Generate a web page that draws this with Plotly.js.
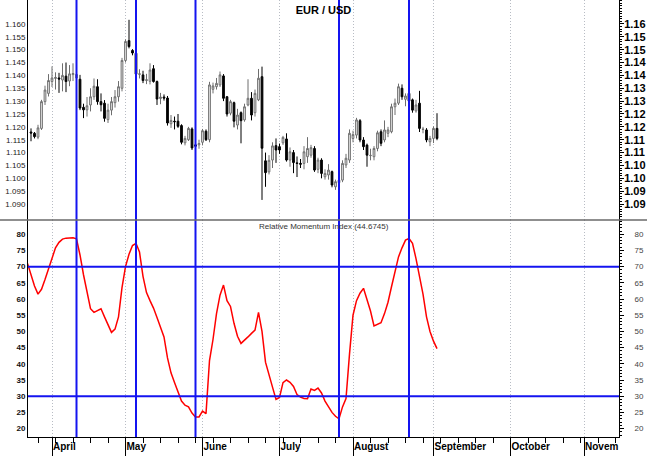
<!DOCTYPE html>
<html><head><meta charset="utf-8">
<script src="https://cdn.plot.ly/plotly-3.0.1.min.js"></script>
<style>html,body{margin:0;padding:0;background:#fff;}#chart{width:647px;height:456px;}</style>
</head><body><div id="chart"></div>
<script>
// ---- data ----
const dates = [
'2016-03-24','2016-03-25','2016-03-28','2016-03-29','2016-03-30','2016-03-31',
'2016-04-01','2016-04-04','2016-04-05','2016-04-06','2016-04-07','2016-04-08','2016-04-11','2016-04-12','2016-04-13','2016-04-14','2016-04-15',
'2016-04-18','2016-04-19','2016-04-20','2016-04-21','2016-04-22','2016-04-25','2016-04-26','2016-04-27','2016-04-28','2016-04-29',
'2016-05-02','2016-05-03','2016-05-04','2016-05-05','2016-05-06','2016-05-09','2016-05-10','2016-05-11','2016-05-12','2016-05-13',
'2016-05-16','2016-05-17','2016-05-18','2016-05-19','2016-05-20','2016-05-23','2016-05-24','2016-05-25','2016-05-26','2016-05-27','2016-05-30','2016-05-31',
'2016-06-01','2016-06-02','2016-06-03','2016-06-06','2016-06-07','2016-06-08','2016-06-09','2016-06-10','2016-06-13','2016-06-14','2016-06-15','2016-06-16','2016-06-17',
'2016-06-20','2016-06-21','2016-06-22','2016-06-23','2016-06-24','2016-06-27','2016-06-28','2016-06-29','2016-06-30',
'2016-07-01','2016-07-04','2016-07-05','2016-07-06','2016-07-07','2016-07-08','2016-07-11','2016-07-12','2016-07-13','2016-07-14','2016-07-15',
'2016-07-18','2016-07-19','2016-07-20','2016-07-21','2016-07-22','2016-07-25','2016-07-26','2016-07-27','2016-07-28','2016-07-29',
'2016-08-01','2016-08-02','2016-08-03','2016-08-04','2016-08-05','2016-08-08','2016-08-09','2016-08-10','2016-08-11','2016-08-12',
'2016-08-15','2016-08-16','2016-08-17','2016-08-18','2016-08-19','2016-08-22','2016-08-23','2016-08-24','2016-08-25','2016-08-26',
'2016-08-29','2016-08-30','2016-08-31','2016-09-01','2016-09-02'];
const openP = [1.1180,1.1175,1.1160,1.1194,1.1298,1.1330,
1.1376,1.1388,1.1390,1.1382,1.1397,1.1378,1.1403,1.1390,1.1385,1.1276,1.1266,
1.1285,1.1317,1.1356,1.1298,1.1292,1.1228,1.1265,1.1294,1.1317,1.1350,
1.1458,1.1535,1.1497,1.1486,1.1404,1.1402,1.1380,1.1377,1.1426,1.1376,
1.1310,1.1316,1.1312,1.1212,1.1222,1.1222,1.1205,1.1138,1.1150,1.1192,1.1130,1.1130,
1.1140,1.1183,1.1150,1.1346,1.1356,1.1363,1.1398,1.1317,1.1253,1.1294,1.1207,1.1255,1.1227,
1.1285,1.1311,1.1255,1.1305,1.1395,1.1068,1.1025,1.1071,1.1127,
1.1123,1.1138,1.1153,1.1071,1.1100,1.1060,1.1058,1.1058,1.1084,1.1090,1.1116,
1.1035,1.1071,1.1006,1.1013,1.1026,1.0967,1.0983,1.0993,1.1052,1.1071,
1.1155,1.1168,1.1224,1.1149,1.1129,1.1088,1.1084,1.1116,1.1181,1.1149,
1.1175,1.1181,1.1278,1.1292,1.1350,1.1307,1.1330,1.1305,1.1262,1.1292,
1.1190,1.1188,1.1142,1.1155,1.1194];
const highP = [1.1194,1.1180,1.1208,1.1305,1.1360,1.1405,
1.1435,1.1412,1.1410,1.1447,1.1450,1.1440,1.1447,1.1412,1.1402,1.1290,1.1316,
1.1350,1.1388,1.1385,1.1330,1.1304,1.1290,1.1316,1.1343,1.1378,1.1468,
1.1540,1.1616,1.1502,1.1490,1.1424,1.1418,1.1406,1.1447,1.1440,1.1380,
1.1332,1.1326,1.1320,1.1246,1.1240,1.1250,1.1210,1.1165,1.1200,1.1198,1.1140,1.1150,
1.1192,1.1190,1.1375,1.1372,1.1390,1.1415,1.1405,1.1320,1.1305,1.1298,1.1270,1.1260,1.1290,
1.1385,1.1335,1.1345,1.1425,1.1434,1.1100,1.1090,1.1140,1.1155,
1.1135,1.1165,1.1175,1.1120,1.1110,1.1085,1.1075,1.1125,1.1160,1.1130,1.1125,
1.1080,1.1078,1.1035,1.1055,1.1030,1.0995,1.1005,1.1070,1.1095,1.1190,
1.1185,1.1235,1.1230,1.1160,1.1135,1.1115,1.1125,1.1185,1.1190,1.1225,
1.1200,1.1290,1.1310,1.1368,1.1365,1.1330,1.1340,1.1310,1.1305,1.1340,
1.1200,1.1195,1.1165,1.1202,1.1253];
const lowP = [1.1144,1.1155,1.1152,1.1188,1.1285,1.1318,
1.1355,1.1345,1.1332,1.1338,1.1335,1.1358,1.1378,1.1385,1.1265,1.1234,1.1240,
1.1260,1.1305,1.1286,1.1260,1.1220,1.1215,1.1245,1.1275,1.1298,1.1338,
1.1450,1.1505,1.1478,1.1395,1.1388,1.1370,1.1366,1.1365,1.1372,1.1285,
1.1288,1.1302,1.1205,1.1196,1.1190,1.1196,1.1132,1.1128,1.1145,1.1110,1.1115,1.1115,
1.1128,1.1145,1.1140,1.1330,1.1345,1.1355,1.1300,1.1240,1.1245,1.1198,1.1190,1.1136,1.1220,
1.1280,1.1225,1.1240,1.1300,1.0916,1.0967,1.1015,1.1040,1.1060,
1.1095,1.1130,1.1065,1.1045,1.1020,1.1005,1.1040,1.1035,1.1060,1.1080,1.1025,
1.1020,1.1000,1.0995,1.0995,1.0965,1.0955,1.0960,1.0985,1.1040,1.1060,
1.1140,1.1155,1.1140,1.1110,1.1045,1.1070,1.1070,1.1105,1.1125,1.1140,
1.1160,1.1175,1.1246,1.1285,1.1305,1.1280,1.1290,1.1255,1.1255,1.1180,
1.1175,1.1140,1.1125,1.1137,1.1148];
const closeP = [1.1176,1.1162,1.1196,1.1298,1.1343,1.1380,
1.1390,1.1392,1.1386,1.1400,1.1376,1.1406,1.1407,1.1404,1.1273,1.1266,1.1282,
1.1317,1.1358,1.1298,1.1286,1.1233,1.1265,1.1298,1.1317,1.1356,1.1458,
1.1532,1.1512,1.1487,1.1405,1.1406,1.1380,1.1383,1.1421,1.1376,1.1308,
1.1316,1.1312,1.1215,1.1225,1.1220,1.1202,1.1140,1.1155,1.1194,1.1118,1.1125,1.1135,
1.1185,1.1150,1.1363,1.1359,1.1369,1.1402,1.1311,1.1250,1.1298,1.1222,1.1246,1.1224,1.1278,
1.1311,1.1246,1.1330,1.1389,1.1117,1.1022,1.1070,1.1126,1.1110,
1.1110,1.1159,1.1071,1.1103,1.1061,1.1058,1.1055,1.1103,1.1116,1.1119,1.1032,
1.1071,1.1019,1.1019,1.1032,1.0974,1.0987,1.0993,1.1058,1.1078,1.1175,
1.1170,1.1227,1.1149,1.1123,1.1090,1.1089,1.1116,1.1177,1.1136,1.1188,
1.1188,1.1278,1.1292,1.1356,1.1317,1.1320,1.1300,1.1265,1.1285,1.1194,
1.1191,1.1149,1.1155,1.1194,1.1155];

const rmiDates = ['2016-03-23'].concat(dates);
const rmi = [71,67.5,64,61.5,63,66,69.5,
73,75.8,77.5,78.5,78.8,78.8,78.9,78.6,73.6,67.5,62,
57,55.9,56.5,57,54.5,52.2,49.7,50.7,54.5,63.5,
70,73.8,76.5,77.2,74.5,67,62,59.5,57.2,54.3,
51.5,48.3,41.8,37.2,34.2,31.6,28.5,27.2,26.7,24.8,23.6,23.6,
25.4,24.6,41,47.5,55.5,61.2,64.3,59.5,57.7,52.5,48.5,46.3,47.2,
48.3,49.4,50.4,55.9,50,40.5,36.3,32.8,29,
29.6,34.2,35,34.3,33,30.5,29.7,29.3,29.2,32.2,31.8,
32.5,31,28.5,26.6,25,23.8,23,26.7,29.3,43,
55,59.5,61.8,63.3,60,56.3,51.7,52.3,52.7,55.5,
59,63.8,68.5,73,75.8,78.2,78.7,77.2,72.5,67.5,
61.5,54.5,50,47,44.6745];

const monthTickDates = ['2016-04-01','2016-05-02','2016-06-01','2016-07-01','2016-08-01','2016-09-01','2016-10-03','2016-11-01'];
const monthLabels = ['April','May','June','July','August','September','October','Novem'];
const priceTicks = [1.090,1.095,1.100,1.105,1.110,1.115,1.120,1.125,1.130,1.135,1.140,1.145,1.150,1.155,1.160];
const priceLabelsLeft = ['1.090','1.095','1.100','1.105','1.110','1.115','1.120','1.125','1.130','1.135','1.140','1.145','1.150','1.155','1.160'];
const priceLabelsRight = ['1.09','1.09','1.10','1.10','1.11','1.11','1.12','1.12','1.13','1.13','1.14','1.14','1.15','1.15','1.16'];
const rmiTicks = [20,25,30,35,40,45,50,55,60,65,70,75,80];
const rmiLevels = [70,30];
const signalDates = ['2016-04-12','2016-05-05','2016-05-30','2016-07-26','2016-08-23'];
const chartTitle = 'EUR / USD';
const rmiTitle = 'Relative Momentum Index (44.6745)';

// ---- chart ----
const FONT = 'Arial, "Liberation Sans", sans-serif';
const SPLIT = 217/437;
const BLUE = '#1414f0';
const priceRange = [1.0838, 1.1693];
const rmiRange = [17.4, 84.4];

const traces = [
  {type:'candlestick', x:dates, open:openP, high:highP, low:lowP, close:closeP,
   xaxis:'x', yaxis:'y', whiskerwidth:0, hoverinfo:'skip', showlegend:false,
   increasing:{line:{color:'#6e6e6e', width:1}, fillcolor:'#f2f2f2'},
   decreasing:{line:{color:'#000000', width:1}, fillcolor:'#000000'}},
  {type:'scatter', mode:'lines', x:rmiDates, y:rmi, xaxis:'x', yaxis:'y2',
   line:{color:'#ff0000', width:1.5}, hoverinfo:'skip', showlegend:false},
  // empty carriers so the right-hand scales get drawn
  {type:'scatter', mode:'lines', x:[], y:[], xaxis:'x', yaxis:'y3', showlegend:false, hoverinfo:'skip'},
  {type:'scatter', mode:'lines', x:[], y:[], xaxis:'x', yaxis:'y4', showlegend:false, hoverinfo:'skip'}
];

const shapes = [];
signalDates.forEach(d => shapes.push({type:'line', xref:'x', yref:'paper', x0:d, x1:d, y0:0, y1:1,
  line:{color:BLUE, width:2}}));
rmiLevels.forEach(v => shapes.push({type:'line', xref:'paper', yref:'y2', x0:0, x1:1, y0:v, y1:v,
  line:{color:BLUE, width:2}}));
shapes.push({type:'line', xref:'paper', yref:'paper', x0:-28/591, x1:1+28/591, y0:SPLIT, y1:SPLIT,
  line:{color:'#6a6a6a', width:1.5}});

const layout = {
  width:647, height:456, autosize:false,
  margin:{l:28, r:28, t:0, b:19, pad:0},
  paper_bgcolor:'#ffffff', plot_bgcolor:'#ffffff', showlegend:false,
  font:{family:FONT, size:10, color:'#000'},
  title:{text:chartTitle, font:{family:FONT, size:11, color:'#000', weight:700},
    x:0.5, xref:'paper', y:1-10/456, yref:'container', yanchor:'middle', xanchor:'center'},
  xaxis:{type:'date', anchor:'y2', range:['2016-03-23 03:26','2016-11-15'],
    rangebreaks:[{bounds:['sat','mon']}], rangeslider:{visible:false},
    tickmode:'array', tickvals:monthTickDates, ticktext:monthLabels,
    ticks:'outside', ticklen:18, tickwidth:1, tickcolor:'#000',
    ticklabelposition:'outside right',
    tickfont:{family:FONT, size:10, color:'#000', weight:700},
    showgrid:true, gridcolor:'#b8bcc4', griddash:'1px,2px', gridwidth:1,
    minor:{ticks:'outside', ticklen:5, tickwidth:1, tickcolor:'#000', dtick:604800000, tick0:'2016-03-28', showgrid:false},
    showline:true, linecolor:'#000', linewidth:1, zeroline:false, fixedrange:true},
  yaxis:{domain:[SPLIT,1], range:priceRange, tickmode:'array', tickvals:priceTicks, ticktext:priceLabelsLeft,
    ticks:'', showgrid:false, zeroline:false, showline:true, linecolor:'#000', linewidth:1,
    tickfont:{family:FONT, size:8, color:'#222'}, fixedrange:true},
  yaxis3:{overlaying:'y', side:'right', anchor:'x', range:priceRange, tickmode:'array', tickvals:priceTicks, ticktext:priceLabelsRight,
    ticks:'outside', ticklen:4, tickwidth:1, tickcolor:'#000',
    minor:{ticks:'outside', ticklen:2, dtick:0.001, tick0:1.09, tickcolor:'#000', showgrid:false},
    ticklabelstandoff:-2,
    showgrid:false, zeroline:false, showline:true, linecolor:'#000', linewidth:1,
    tickfont:{family:FONT, size:11, color:'#000', weight:700}, fixedrange:true},
  yaxis2:{domain:[0,SPLIT], range:rmiRange, tickmode:'array', tickvals:rmiTicks,
    ticks:'', showgrid:false, zeroline:false, showline:true, linecolor:'#000', linewidth:1,
    tickfont:{family:FONT, size:8, color:'#111', weight:700}, fixedrange:true},
  yaxis4:{overlaying:'y2', side:'right', anchor:'x', range:rmiRange, tickmode:'array', tickvals:rmiTicks,
    ticks:'outside', ticklen:4, tickwidth:1, tickcolor:'#000',
    minor:{ticks:'outside', ticklen:2, dtick:1, tick0:20, tickcolor:'#000', showgrid:false},
    ticklabelstandoff:9,
    showgrid:false, zeroline:false, showline:true, linecolor:'#000', linewidth:1,
    tickfont:{family:FONT, size:8, color:'#444'}, fixedrange:true},
  annotations:[{text:rmiTitle, xref:'paper', yref:'paper', x:0.5, y:(437-226)/437, xanchor:'center', yanchor:'middle',
    showarrow:false, font:{family:FONT, size:8, color:'#333'}}],
  shapes:shapes
};

Plotly.newPlot('chart', traces, layout, {displayModeBar:false, staticPlot:true});
</script></body></html>
